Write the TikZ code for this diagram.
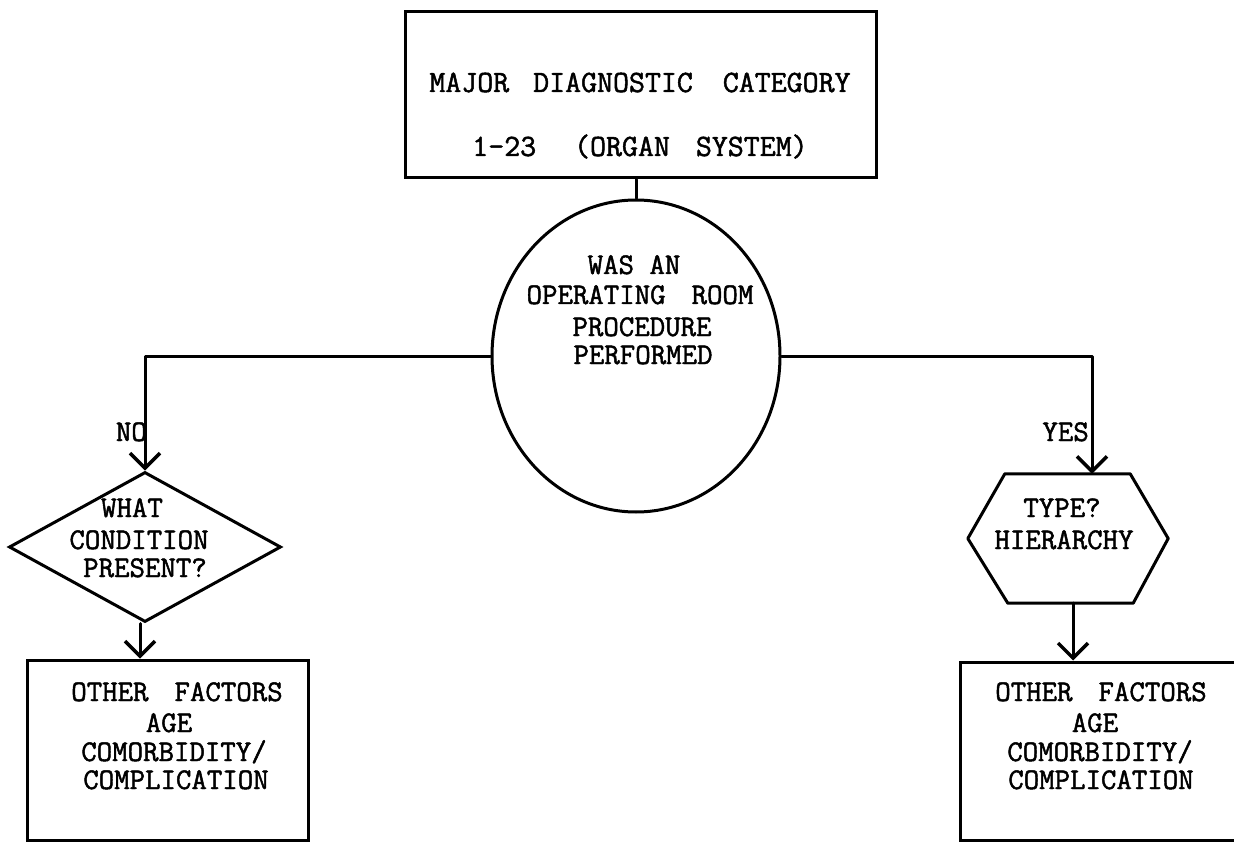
\documentclass[tikz,border=0pt]{standalone}
\usepackage{fontspec}
\newfontfamily\typewriter{Latin Modern Mono}[FakeBold=1.6]
\usetikzlibrary{arrows.meta,shapes.geometric}

\tikzset{
  outline/.style={draw, line width=3pt, inner sep=0pt},
  flow/.style={line width=3pt, line cap=round, line join=round},
  flowarrow/.style={flow, -{Straight Barb[length=15pt,width=30pt,line width=3.5pt]}},
  txt/.style={font=\typewriter\fontsize{30}{34}\selectfont, inner sep=0pt, anchor=base},
  bigtxt/.style={txt, font=\typewriter\fontsize{31}{34}\selectfont},
}

\begin{document}
\begin{tikzpicture}[x=1pt, y=-1pt]
  \useasboundingbox (0,0) rectangle (1234,842);
  \clip (0,0) rectangle (1234,842);

  % shapes
  \node[outline, rectangle, minimum width=471pt, minimum height=166pt] (mdc) at (640.5,95) {};
  \node[outline, ellipse, minimum width=288pt, minimum height=312pt] (orp) at (636,356) {};
  \node[outline, diamond, minimum width=272pt, minimum height=150pt] (cond) at (145,547) {};
  \node[inner sep=0pt, minimum width=200pt, minimum height=129pt] (hier) at (1068,538.5) {};
  \draw[line width=3pt, line join=round]
    ([xshift=37pt]hier.north west) -- ([xshift=-38pt]hier.north east) -- (hier.east)
    -- ([xshift=-35pt]hier.south east) -- ([xshift=40pt]hier.south west) -- (hier.west) -- cycle;
  \node[outline, rectangle, minimum width=281pt, minimum height=180pt] (leftbox) at (167.5,750) {};
  \node[outline, rectangle, minimum width=282pt, minimum height=178pt] (rightbox) at (1101,751) {};

  % connectors
  \draw[flow] (mdc.south -| orp.north) -- (orp.north);
  \draw[flowarrow] (orp.west) -| (cond.north);
  \draw[flowarrow] (orp.east) -| ([xshift=24pt]hier.north);
  \draw[flowarrow] ([xshift=-5pt]cond.south) -- ([xshift=-5pt]cond.south |- leftbox.north);
  \draw[flowarrow] ([xshift=5pt]hier.south) -- ([xshift=5pt]hier.south |- rightbox.north);

  % branch labels
  \node[txt, anchor=base east] (no) at (147,441) {NO};
  \node[txt, anchor=base east] (yes) at (1089,441) {YES};

  % top box text
  \node[bigtxt] (mdc1) at (640,92) {MAJOR\hspace{24pt}DIAGNOSTIC\hspace{30pt}CATEGORY};
  \node[bigtxt] (mdc2) at (640,156) {1-23\hspace{38pt}(ORGAN\hspace{26pt}SYSTEM)};

  % circle text
  \node[txt] (orp1) at (634,274) {WAS AN};
  \node[txt] (orp2) at (640,304) {OPERATING\hspace{26pt}ROOM};
  \node[txt] (orp3) at (642,336) {PROCEDURE};
  \node[txt] (orp4) at (643,364) {PERFORMED};

  % diamond text
  \node[txt] (cond1) at (132,517) {WHAT};
  \node[txt] (cond2) at (139,549) {CONDITION};
  \node[txt] (cond3) at (145,577) {PRESENT?};

  % hexagon text
  \node[txt] (hier1) at (1062,517) {TYPE?};
  \node[txt] (hier2) at (1064,549) {HIERARCHY};

  % left box text
  \node[txt] (lb1) at (177,701) {OTHER\hspace{26pt}FACTORS};
  \node[txt] (lb2) at (169,732) {AGE};
  \node[txt] (lb3) at (174,761) {COMORBIDITY/};
  \node[txt] (lb4) at (176,789) {COMPLICATION};

  % right box text
  \node[txt] (rb1) at (1101,701) {OTHER\hspace{26pt}FACTORS};
  \node[txt] (rb2) at (1095,732) {AGE};
  \node[txt] (rb3) at (1100,761) {COMORBIDITY/};
  \node[txt] (rb4) at (1101,789) {COMPLICATION};
\end{tikzpicture}
\end{document}
